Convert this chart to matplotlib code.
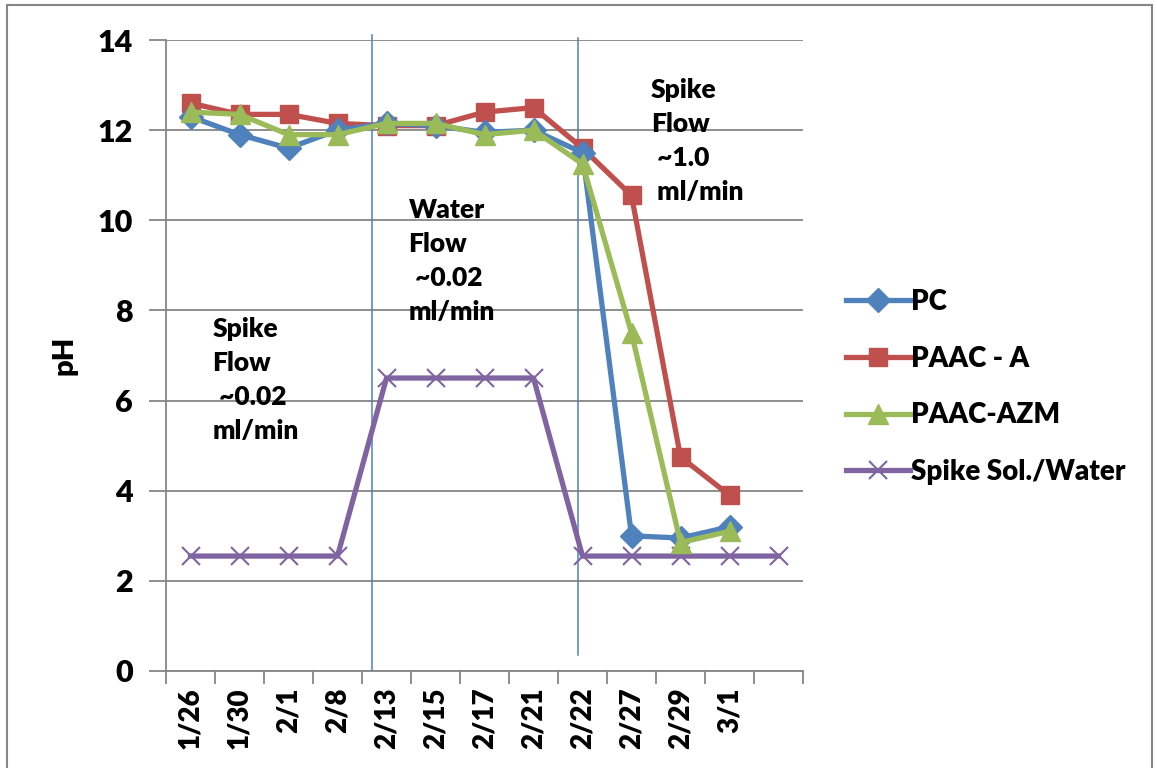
import matplotlib.pyplot as plt
import numpy as np
from matplotlib.patches import Rectangle

# data
dates = ['1/26', '1/30', '2/1', '2/8', '2/13', '2/15', '2/17', '2/21',
         '2/22', '2/27', '2/29', '3/1', '']
pc = [12.3, 11.9, 11.6, 12.0, 12.15, 12.1, 11.95, 12.0, 11.5, 3.0, 2.95, 3.2]
paac_a = [12.6, 12.35, 12.35, 12.15, 12.1, 12.1, 12.4, 12.5, 11.6, 10.55, 4.75, 3.9]
paac_azm = [12.4, 12.35, 11.9, 11.9, 12.15, 12.15, 11.9, 12.0, 11.25, 7.5, 2.85, 3.1]
spike_water = [2.55, 2.55, 2.55, 2.55, 6.5, 6.5, 6.5, 6.5, 2.55, 2.55, 2.55, 2.55, 2.55]

plt.rcParams['font.family'] = ['Lato', 'DejaVu Sans']
plt.rcParams['font.weight'] = 'heavy'
W = 'heavy'

fig = plt.figure(figsize=(11.57, 7.68), dpi=100)
ax = fig.add_axes([166 / 1157, 97 / 768, 637 / 1157, 631 / 768])

grey = '#868686'
x = np.arange(len(dates))

ax.plot(x[:len(pc)], pc, color='#4F81BD', lw=3.8, marker='D', ms=12, label='PC', zorder=4)
ax.plot(x[:len(paac_a)], paac_a, color='#C0504D', lw=3.8, marker='s', ms=13, label='PAAC - A', zorder=3)
ax.plot(x[:len(paac_azm)], paac_azm, color='#9BBB59', lw=3.8, marker='^', ms=14, label='PAAC-AZM', zorder=5)
ax.plot(x, spike_water, color='#8064A2', lw=3.8, marker='x', ms=13, mew=1.5, label='Spike Sol./Water', zorder=3)

ax.set_xlim(-0.5, len(dates) - 0.5)
ax.set_ylim(0, 14)
ax.set_yticks(range(0, 15, 2))
ax.grid(axis='y', color=grey, lw=1.3)
ax.set_axisbelow(True)

ax.set_xticks(x)
ax.set_xticklabels(dates, rotation=90, fontsize=20, fontweight=W)
ax.set_xticks(np.arange(-0.5, len(dates)), minor=True)
ax.tick_params(axis='x', which='major', length=0, pad=12)
ax.tick_params(axis='x', which='minor', length=9, width=1.3, color=grey, direction='out')
ax.tick_params(axis='y', length=12, width=1.3, color=grey, labelsize=22, pad=12)
for lab in ax.get_yticklabels():
    lab.set_fontweight(W)

for side in ['top', 'right']:
    ax.spines[side].set_visible(False)
for side in ['left', 'bottom']:
    ax.spines[side].set_color(grey)
    ax.spines[side].set_linewidth(1.3)

ax.set_ylabel('pH', fontsize=21, fontweight=W, labelpad=14)

# phase separators
ax.plot([3.71, 3.71], [0, 14.1], color='#4F81BD', lw=1.1, clip_on=False, zorder=2)
ax.plot([7.9, 7.9], [0.35, 14.05], color='#4F81BD', lw=1.1, clip_on=False, zorder=2)

note_kw = dict(fontsize=19, fontweight=W, va='top', ha='left', linespacing=1.5)
ax.text(0.45, 7.85, 'Spike\nFlow\n ~0.02\nml/min', **note_kw)
ax.text(4.45, 10.5, 'Water\nFlow\n ~0.02\nml/min', **note_kw)
ax.text(9.4, 13.15, 'Spike\nFlow\n ~1.0\n ml/min', **note_kw)

leg = ax.legend(loc='center left', bbox_to_anchor=(1.028, 0.45), frameon=False,
                prop={'size': 20, 'weight': W}, handlelength=2.3,
                handletextpad=0.05, labelspacing=1.1)

fig.patches.append(Rectangle((7 / 1157, -0.05), 1145 / 1157, 1.05 - 5 / 768,
                             transform=fig.transFigure, fill=False,
                             edgecolor=grey, lw=1.5))

fig.savefig('out.png', dpi=100)
